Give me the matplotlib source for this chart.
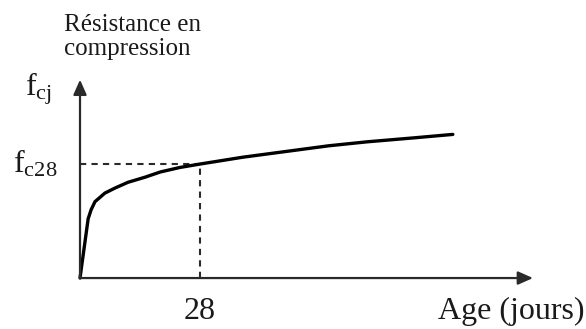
import matplotlib

matplotlib.use("Agg")
import matplotlib.pyplot as plt

plt.rcParams["font.family"] = ["Liberation Serif", "DejaVu Serif"]
plt.rcParams["mathtext.fontset"] = "custom"
plt.rcParams["mathtext.rm"] = "Liberation Serif"
plt.rcParams["mathtext.it"] = "Liberation Serif"

# age in days vs strength relative to fc28
age_days = [0, 1.9, 2.6, 3.5, 5.8, 8.2, 11.2, 15.2, 18.7, 23.3, 28, 38, 48, 58, 67, 78, 87]
strength = [0.0, 0.52, 0.60, 0.67, 0.745, 0.79, 0.84, 0.885, 0.93, 0.97, 1.0,
            1.06, 1.11, 1.16, 1.195, 1.23, 1.26]
ref_age = 28
ref_strength = 1.0
x_axis_end = 105.7
y_axis_end = 1.74

x_label = "Age (jours)"
y_title = "Résistance en\ncompression"
y_symbol = r"f$_{\mathrm{cj}}$"
ref_label = r"f$_{\mathrm{c28}}$"
ink = "#1a1a1a"

fig = plt.figure(figsize=(5.86, 3.29), dpi=100)
ax = fig.add_axes([0, 0, 1, 1])
ax.set_xlim(-18.67, 118.07)
ax.set_ylim(-0.447, 2.439)
ax.axis("off")

arrow = dict(arrowstyle="-|>,head_length=0.45,head_width=0.2", mutation_scale=20,
             lw=1.6, color="#2a2a2a", shrinkA=0, shrinkB=0)
ax.annotate("", xy=(x_axis_end, 0), xytext=(0, 0), arrowprops=arrow)
ax.annotate("", xy=(0, y_axis_end), xytext=(0, 0), arrowprops=arrow)

ax.plot([0, ref_age], [ref_strength, ref_strength], color="#2a2a2a", lw=1.5, ls=(0, (3, 2.5)))
ax.plot([ref_age, ref_age], [0, ref_strength], color="#2a2a2a", lw=1.5, ls=(0, (3, 2.5)))

ax.plot(age_days, strength, color="black", lw=2.4, solid_capstyle="round", solid_joinstyle="round")

ax.text(ref_age, -0.29, str(ref_age), ha="center", va="center", fontsize=23, color=ink)
ax.text(117.8, -0.29, x_label, ha="right", va="center", fontsize=23, color=ink)
ax.text(-5.3, ref_strength, ref_label, ha="right", va="center", fontsize=23, color=ink)
ax.text(-6.5, 1.66, y_symbol, ha="right", va="center", fontsize=23, color=ink)
ax.text(0.109, 0.957, y_title, transform=ax.transAxes, ha="left", va="top",
        fontsize=18, color=ink, linespacing=1.13)

fig.savefig("out.png", dpi=100)
